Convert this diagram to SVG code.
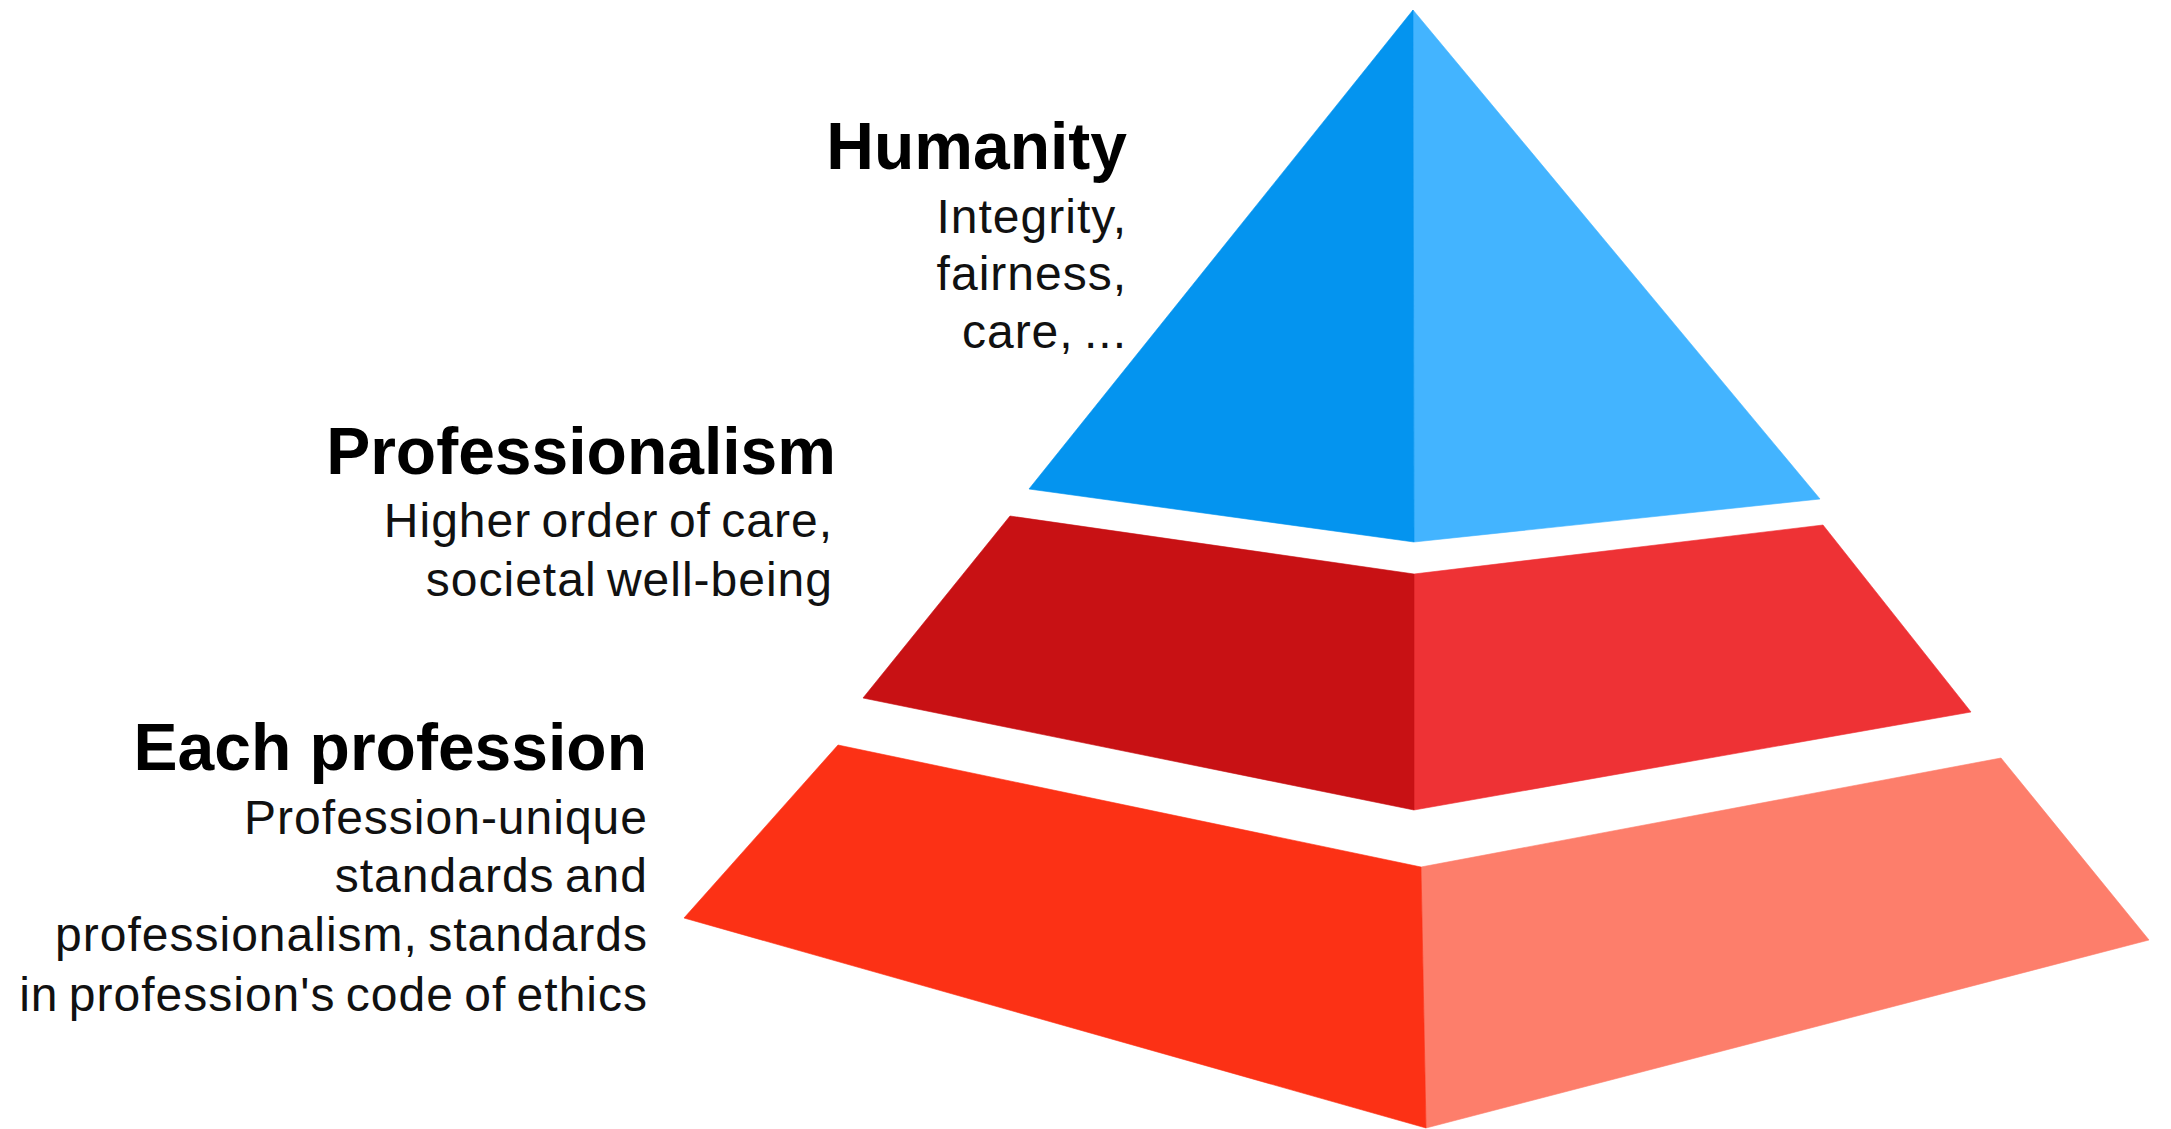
<svg xmlns="http://www.w3.org/2000/svg" width="2171" height="1129" viewBox="0 0 2171 1129">
  <style>
    .title { font-family: "Liberation Sans", Arial, sans-serif; font-weight: bold; font-size: 66px; fill: #000; text-anchor: end; }
    .desc { font-family: "Liberation Sans", Arial, sans-serif; font-size: 48px; fill: #111; text-anchor: end; letter-spacing: 1px; word-spacing: -4px; }
  </style>
  <rect width="2171" height="1129" fill="#fff"/>
  <g id="tier-humanity">
    <polygon points="1413,10 1820,499 1414,542" fill="#43B4FF" stroke="#43B4FF" stroke-width="0.6"/>
    <polygon points="1413,10 1029,489 1414,542" fill="#0494EF" stroke="#0494EF" stroke-width="0.6"/>
  </g>
  <g id="tier-professionalism">
    <polygon points="1414,574 1823,525 1971,712 1414,810" fill="#EE3235" stroke="#EE3235" stroke-width="0.6"/>
    <polygon points="1010,516 1414,574 1414,810 863,698" fill="#C81114" stroke="#C81114" stroke-width="0.6"/>
  </g>
  <g id="tier-each-profession">
    <polygon points="1421,867 2001,758 2149,940 1426,1128" fill="#FD7E6B" stroke="#FD7E6B" stroke-width="0.6"/>
    <polygon points="838,745 1421,867 1426,1128 684,918" fill="#FC3115" stroke="#FC3115" stroke-width="0.6"/>
  </g>
  <g id="label-humanity">
    <text class="title" x="1127" y="169">Humanity</text>
    <text class="desc" x="1127" y="233">Integrity,</text>
    <text class="desc" x="1127" y="290">fairness,</text>
    <text class="desc" x="1127" y="348">care, ...</text>
  </g>
  <g id="label-professionalism">
    <text class="title" x="836" y="474">Professionalism</text>
    <text class="desc" x="833" y="537">Higher order of care,</text>
    <text class="desc" x="833" y="596">societal well-being</text>
  </g>
  <g id="label-each-profession">
    <text class="title" x="647" y="770">Each profession</text>
    <text class="desc" x="648" y="834">Profession-unique</text>
    <text class="desc" x="648" y="892">standards and</text>
    <text class="desc" x="648" y="951">professionalism, standards</text>
    <text class="desc" x="648" y="1011">in profession's code of ethics</text>
  </g>
  <g id="connectors"/>
</svg>
